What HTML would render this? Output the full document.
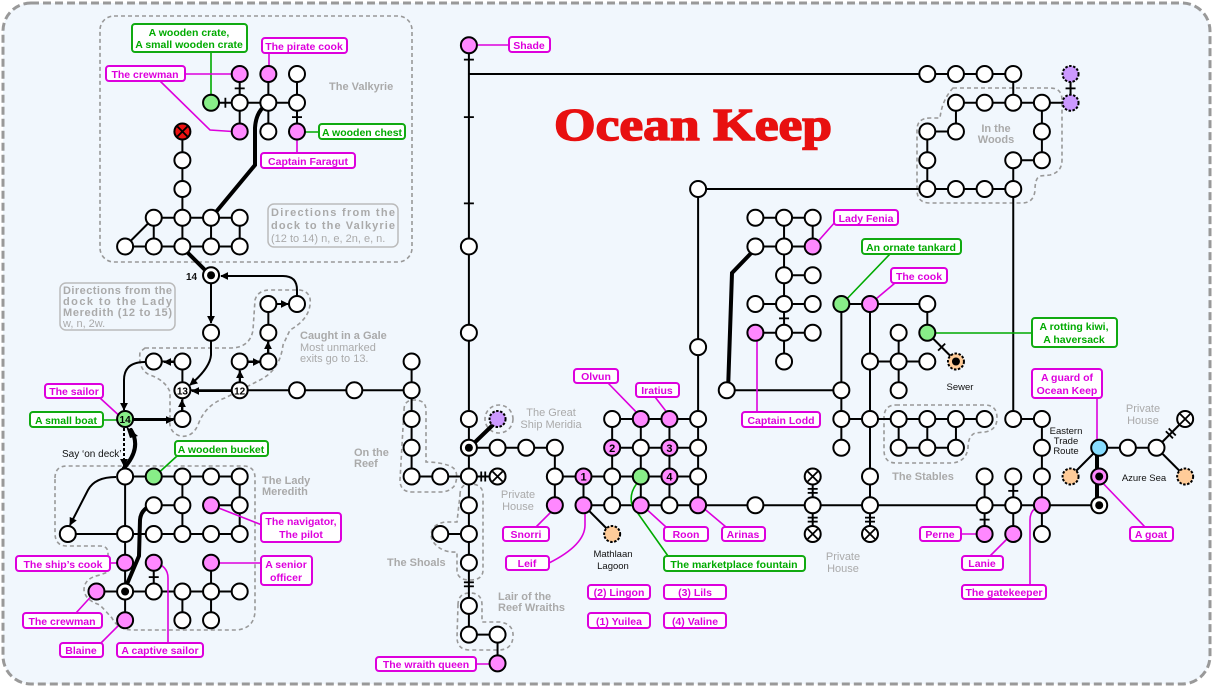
<!DOCTYPE html>
<html><head><meta charset="utf-8"><style>
body{margin:0;background:#fff}
svg{display:block;font-family:"Liberation Sans",sans-serif}
.m rect{fill:#fff;stroke:#d0d;stroke-width:2}
.m text{fill:#d0d;font-weight:bold;font-size:10.5px;text-anchor:middle}
.gr rect{fill:#fff;stroke:#1a1;stroke-width:2}
.gr text{fill:#0a0;font-weight:bold;font-size:10.5px;text-anchor:middle}
.gy{fill:#aaa;font-weight:bold;font-size:11px}
.bk{fill:#111;font-size:10px;font-weight:bold}
.dg{fill:none;stroke:#999;stroke-width:1.6;stroke-dasharray:4 3}
.ld{fill:none;stroke:#d0d;stroke-width:1.6}
.lg{fill:none;stroke:#0a0;stroke-width:1.6}
.e{stroke:#000;stroke-width:2;fill:none}
.th{stroke:#000;stroke-width:4;fill:none;stroke-linecap:round}
</style></head><body>
<svg id="s" width="1213" height="687" viewBox="0 0 1213 687" xmlns="http://www.w3.org/2000/svg">
<defs><marker id="a" viewBox="0 0 10 10" refX="9" refY="5" markerUnits="userSpaceOnUse" markerWidth="8" markerHeight="8" orient="auto"><path d="M0,0L10,5L0,10z" fill="#000"/></marker></defs>
<rect x="3" y="3" width="1207" height="681" rx="28" fill="#f1f7fd" stroke="#999" stroke-width="3" stroke-dasharray="8 4"/>
<rect class="dg" x="100" y="16" width="312" height="246" rx="14"/>
<path class="dg" d="M145,348 L230,348 Q250,348 253,330 L255,300 Q258,290 270,290 L300,290 Q312,292 310,305 Q308,320 290,330 L283,345 Q280,370 260,380 L225,398 Q205,405 198,425 Q192,438 180,436 Q168,432 170,418 L170,392 Q165,380 150,375 Q138,370 140,352 Z"/>
<path class="dg" d="M404,410 Q404,400 414,400 Q426,400 426,410 L426,462 Q440,462 450,466 Q460,470 455,485 Q450,492 440,492 L412,492 Q400,492 400,480 Z"/>
<path class="dg" d="M460,495 Q460,484 470,484 Q483,484 483,495 L483,570 Q483,580 470,580 Q457,580 457,570 L457,552 Q440,553 432,540 Q428,525 445,522 L457,522 Z"/>
<path class="dg" d="M458,605 Q458,593 470,593 Q482,593 482,605 L482,622 L500,622 Q514,624 513,637 Q512,650 498,650 L470,650 Q457,650 457,637 Z"/>
<circle class="dg" cx="499" cy="419" r="14"/>
<path class="dg" d="M55,478 Q55,466 67,466 L243,466 Q255,466 255,478 L255,610 Q255,628 237,630 L133,630 Q118,630 112,618 L100,605 Q85,600 84,590 Q84,578 100,575 L108,572 L108,553 Q108,546 100,546 L67,546 Q55,546 55,533 Z"/>
<path class="dg" d="M896,405 L985,405 Q997,405 997,418 Q997,430 985,432 L975,433 Q968,436 968,448 Q966,462 952,463 L896,463 Q884,463 884,450 L884,418 Q884,405 896,405 Z"/>
<path class="dg" d="M953,88 L1050,88 Q1062,88 1062,100 L1062,160 Q1062,172 1050,175 L1040,176 Q1035,178 1035,190 Q1034,203 1022,203 L930,203 Q917,203 917,190 L917,130 Q917,118 930,118 L940,118 Q942,100 953,88 Z"/>
<g id="E"></g>
<path class="th" d="M269,103 Q256,110 255,128 L255,165 L211,218"/>
<path class="th" d="M182,247 L211,276"/>
<path class="th" d="M124,591 L139,556 L140,520 Q141,508 154,505"/>
<path class="th" d="M124,468 Q142,448 131,430"/>
<path d="M126,426 L138,436 L130,438 Z" fill="#000"/>
<path class="e" d="M124,428 L124,466" stroke-dasharray="3 2" marker-end="url(#a)"/>
<path class="th" d="M469,448 L499,419"/>
<path class="th" d="M757,247 L732,273 L728,391"/>
<path class="th" d="M1097,448 L1097,506"/>
<path class="e" d="M297,296 L297,290 Q297,276 283,276 L221,276" marker-end="url(#a)"/>
<path class="e" d="M211,284 L211,323" marker-end="url(#a)"/>
<path class="e" d="M211,341 L211,355 Q210,368 190,385" marker-end="url(#a)"/>
<path class="e" d="M174,362 L164,362" marker-end="url(#a)"/>
<path class="e" d="M145,362 Q124,362 124,380 L124,410" marker-end="url(#a)"/>
<path class="e" d="M232,391 L192,391" marker-end="url(#a)"/>
<path class="e" d="M240,383 L240,371" marker-end="url(#a)"/>
<path class="e" d="M248,362 L260,362" marker-end="url(#a)"/>
<path class="e" d="M268,354 L268,342" marker-end="url(#a)"/>
<path class="e" d="M276,304 L288,304" marker-end="url(#a)"/>
<path class="e" d="M182,411 L182,400" marker-end="url(#a)"/>
<path class="e" d="M132,420 L173,420" marker-end="url(#a)"/>
<path class="e" d="M116,477 Q95,477 88,490 L70,525" marker-end="url(#a)"/>
<path class="lg" d="M211,52 L211,103"/>
<path class="ld" d="M269,53 L269,74"/>
<path class="ld" d="M185,74 L240,74 M160,81 L210,130 L240,132"/>
<path class="lg" d="M298,132 L320,132"/>
<path class="ld" d="M297,132 L297,153"/>
<path class="ld" d="M100,398 L124,420"/>
<path class="lg" d="M103,420 L124,420"/>
<path class="lg" d="M177,456 L154,477"/>
<path class="ld" d="M211,505 L262,525"/>
<path class="ld" d="M110,563 L124,563"/>
<path class="ld" d="M211,563 L262,563"/>
<path class="ld" d="M76,613 L96,591"/>
<path class="ld" d="M101,643 L124,620"/>
<path class="ld" d="M154,562 Q168,566 168,578 L168,643"/>
<path class="ld" d="M476,664 L499,664"/>
<path class="ld" d="M550,45 L469,45"/>
<path class="ld" d="M536,527 L557,506"/>
<path class="ld" d="M549,563 Q585,545 585,525 L585,506"/>
<path class="ld" d="M608,383 L643,419 M655,397 L672,419"/>
<path class="ld" d="M643,506 L666,527 M701,506 L726,527"/>
<path class="lg" d="M643,477 Q628,490 632,505 L668,556"/>
<path class="ld" d="M757,333 L757,412"/>
<path class="ld" d="M836,221 L813,247"/>
<path class="lg" d="M890,254 L842,304"/>
<path class="ld" d="M895,283 L870,304"/>
<path class="lg" d="M926,333 L1032,333"/>
<path class="ld" d="M961,534 L982,534"/>
<path class="ld" d="M990,556 L1011,535"/>
<path class="ld" d="M1030,585 L1030,520 Q1030,510 1039,506"/>
<path class="ld" d="M1097,398 L1097,448"/>
<path class="ld" d="M1097,477 L1145,527"/>
<g id="N"></g>
<text x="693" y="140" font-family="Liberation Serif,serif" font-weight="bold" font-size="46" fill="#e81010" stroke="#e81010" stroke-width="1.5" text-anchor="middle" textLength="278" lengthAdjust="spacingAndGlyphs">Ocean Keep</text>
<g class="gr"><rect x="132" y="24" width="115" height="28" rx="3"/><text x="189" y="36">A wooden crate,</text><text x="189" y="48">A small wooden crate</text></g>
<g class="m"><rect x="262" y="38" width="85" height="15" rx="3"/><text x="304" y="50">The pirate cook</text></g>
<g class="m"><rect x="106" y="66" width="79" height="15" rx="3"/><text x="145" y="78">The crewman</text></g>
<g class="gr"><rect x="319" y="124" width="86" height="15" rx="3"/><text x="362" y="136">A wooden chest</text></g>
<g class="m"><rect x="261" y="153" width="94" height="15" rx="3"/><text x="308" y="165">Captain Faragut</text></g>
<text class="gy" x="329" y="90">The Valkyrie</text>
<rect x="268" y="204" width="130" height="43" rx="6" fill="#f1f7fd" stroke="#bbb" stroke-width="1.5"/>
<text x="271" y="216" class="gy" textLength="124">Directions from the</text>
<text x="271" y="229" class="gy" textLength="124">dock to the Valkyrie</text>
<text x="271" y="242" fill="#aaa" font-size="11">(12 to 14) n, e, 2n, e, n.</text>
<text x="186" y="280" class="bk" font-size="11">14</text>
<rect x="60" y="283" width="115" height="47" rx="6" fill="#f1f7fd" stroke="#bbb" stroke-width="1.5"/>
<text x="63" y="294" class="gy" textLength="109">Directions from the</text>
<text x="63" y="305" class="gy" textLength="109">dock to the Lady</text>
<text x="63" y="316" class="gy" textLength="109">Meredith (12 to 15)</text>
<text x="63" y="327" fill="#aaa" font-size="11">w, n, 2w.</text>
<text class="gy" x="300" y="339">Caught in a Gale</text>
<text fill="#aaa" font-size="11" x="300" y="351">Most unmarked</text>
<text fill="#aaa" font-size="11" x="300" y="362">exits go to 13.</text>
<g class="m"><rect x="45" y="384" width="58" height="14" rx="3"/><text x="74" y="395">The sailor</text></g>
<g class="gr"><rect x="30" y="412" width="73" height="15" rx="3"/><text x="66" y="424">A small boat</text></g>
<text x="62" y="457" font-size="10" fill="#111">Say ‘on deck’</text>
<g class="gr"><rect x="175" y="441" width="93" height="15" rx="3"/><text x="221" y="453">A wooden bucket</text></g>
<text class="gy" x="262" y="484">The Lady</text><text class="gy" x="262" y="495">Meredith</text>
<g class="m"><rect x="261" y="513" width="80" height="29" rx="3"/><text x="301" y="525">The navigator,</text><text x="301" y="538">The pilot</text></g>
<g class="m"><rect x="16" y="556" width="94" height="15" rx="3"/><text x="63" y="568">The ship’s cook</text></g>
<g class="m"><rect x="261" y="556" width="51" height="29" rx="3"/><text x="286" y="568">A senior</text><text x="286" y="581">officer</text></g>
<g class="m"><rect x="23" y="613" width="79" height="15" rx="3"/><text x="62" y="625">The crewman</text></g>
<g class="m"><rect x="60" y="643" width="43" height="14" rx="3"/><text x="81" y="654">Blaine</text></g>
<g class="m"><rect x="117" y="643" width="86" height="14" rx="3"/><text x="160" y="654">A captive sailor</text></g>
<text class="gy" x="354" y="456">On the</text><text class="gy" x="354" y="467">Reef</text>
<text class="gy" x="387" y="566">The Shoals</text>
<text class="gy" x="498" y="600">Lair of the</text><text class="gy" x="498" y="611">Reef Wraiths</text>
<g class="m"><rect x="376" y="657" width="100" height="14" rx="3"/><text x="426" y="668">The wraith queen</text></g>
<g class="m"><rect x="509" y="37" width="41" height="15" rx="3"/><text x="529" y="49">Shade</text></g>
<text fill="#aaa" font-size="11" x="551" y="416" text-anchor="middle">The Great</text><text fill="#aaa" font-size="11" x="551" y="428" text-anchor="middle">Ship Meridia</text>
<text fill="#aaa" font-size="11" x="518" y="498" text-anchor="middle">Private</text><text fill="#aaa" font-size="11" x="518" y="510" text-anchor="middle">House</text>
<g class="m"><rect x="503" y="527" width="46" height="14" rx="3"/><text x="526" y="538">Snorri</text></g>
<g class="m"><rect x="506" y="556" width="43" height="14" rx="3"/><text x="527" y="567">Leif</text></g>
<text x="613" y="557" font-size="9.5" fill="#111" text-anchor="middle">Mathlaan</text><text x="613" y="569" font-size="9.5" fill="#111" text-anchor="middle">Lagoon</text>
<g class="m"><rect x="574" y="369" width="44" height="14" rx="3"/><text x="596" y="380">Olvun</text></g>
<g class="m"><rect x="636" y="383" width="43" height="14" rx="3"/><text x="657" y="394">Iratius</text></g>
<g class="m"><rect x="664" y="527" width="44" height="14" rx="3"/><text x="686" y="538">Roon</text></g>
<g class="m"><rect x="722" y="527" width="43" height="14" rx="3"/><text x="743" y="538">Arinas</text></g>
<g class="gr"><rect x="664" y="556" width="141" height="15" rx="3"/><text x="734" y="568">The marketplace fountain</text></g>
<g class="m"><rect x="588" y="585" width="62" height="14" rx="3"/><text x="619" y="596">(2) Lingon</text></g>
<g class="m"><rect x="664" y="585" width="62" height="14" rx="3"/><text x="695" y="596">(3) Lils</text></g>
<g class="m"><rect x="588" y="613" width="62" height="15" rx="3"/><text x="619" y="625">(1) Yuilea</text></g>
<g class="m"><rect x="664" y="613" width="62" height="15" rx="3"/><text x="695" y="625">(4) Valine</text></g>
<g class="m"><rect x="742" y="412" width="78" height="15" rx="3"/><text x="781" y="424">Captain Lodd</text></g>
<g class="m"><rect x="834" y="210" width="64" height="15" rx="3"/><text x="866" y="222">Lady Fenia</text></g>
<g class="gr"><rect x="862" y="239" width="99" height="15" rx="3"/><text x="911" y="251">An ornate tankard</text></g>
<g class="m"><rect x="891" y="268" width="56" height="15" rx="3"/><text x="919" y="280">The cook</text></g>
<g class="gr"><rect x="1032" y="318" width="85" height="29" rx="3"/><text x="1074" y="330">A rotting kiwi,</text><text x="1074" y="343">A haversack</text></g>
<text x="960" y="390" font-size="9.5" fill="#111" text-anchor="middle">Sewer</text>
<text class="gy" x="923" y="480" text-anchor="middle">The Stables</text>
<text class="gy" x="996" y="132" text-anchor="middle">In the</text><text class="gy" x="996" y="143" text-anchor="middle">Woods</text>
<text fill="#aaa" font-size="11" x="843" y="560" text-anchor="middle">Private</text><text fill="#aaa" font-size="11" x="843" y="572" text-anchor="middle">House</text>
<g class="m"><rect x="920" y="527" width="41" height="14" rx="3"/><text x="940" y="538">Perne</text></g>
<g class="m"><rect x="962" y="556" width="41" height="14" rx="3"/><text x="982" y="567">Lanie</text></g>
<g class="m"><rect x="962" y="585" width="84" height="14" rx="3"/><text x="1004" y="596">The gatekeeper</text></g>
<g class="m"><rect x="1032" y="369" width="70" height="29" rx="3"/><text x="1067" y="381">A guard of</text><text x="1067" y="394">Ocean Keep</text></g>
<text x="1066" y="434" font-size="9.5" fill="#111" text-anchor="middle">Eastern</text><text x="1066" y="444" font-size="9.5" fill="#111" text-anchor="middle">Trade</text><text x="1066" y="454" font-size="9.5" fill="#111" text-anchor="middle">Route</text>
<text fill="#aaa" font-size="11" x="1143" y="412" text-anchor="middle">Private</text><text fill="#aaa" font-size="11" x="1143" y="424" text-anchor="middle">House</text>
<text x="1144" y="481" font-size="9.5" fill="#111" text-anchor="middle">Azure Sea</text>
<g class="m"><rect x="1130" y="527" width="43" height="14" rx="3"/><text x="1151" y="538">A goat</text></g>
</svg>
<script>
const X=c=>10.5+28.65*c,Y=r=>16.5+28.75*r,NS="http://www.w3.org/2000/svg";
const E=document.getElementById('E'),N=document.getElementById('N');
function el(p,t,a){const e=document.createElementNS(NS,t);for(const k in a)e.setAttribute(k,a[k]);p.appendChild(e);return e;}
const edges=[[8,2,8,3],[7,3,8,3],[8,3,10,3],[9,2,9,4],[10,2,10,4],[8,3,8,4],[6,4,6,7],[5,7,8,7],[4,8,8,8],[5,7,5,8],[6,7,6,8],[7,7,7,8],[8,7,8,8],[4,8,5,7],
[9,10,9,12],[6,12,6,13],[5,12,6,12],[8,12,9,12],[8,12,8,13],[6,13,14,13],[6,13,6,14],[4,14,6,14],[9,10,10,10],
[14,12,14,16],[14,16,16,16],
[4,16,8,16],[6,16,6,18],[8,16,8,18],[7,17,8,17],[5,17,6,17],[2,18,8,18],[4,16,4,21],[3,20,8,20],[5,19,5,20],[7,19,7,20],[6,20,6,21],[7,20,7,21],
[16,1,16,2],[16,2,35,2],[16,2,16,19],[16,19,16,20.5],[16,20.5,16,21.5],[16,21.5,17,21.5],[17,21.5,17,22.5],
[16,15,19,15],[19,15,19,17],[19,16,24,16],[20,16,20,17],[20,17,38,17],[20,17,21,18],[16,16,17,16],[15,18,16,18],
[21,14,24,14],[21,15,24,15],[21,14,21,17],[22,14,22,17],[23,14,23,17],[24,6,24,17],[24,6,32,6],
[28,16,28,18],[30,17,30,18],[30,10,30,17],[29,10,29,15],[29,10,32,10],[32,10,32,11],[32,11,33,12],[31,11,31,13],[30,12,32,12],[25,13,29,13],[29,14,34,14],[31,14,31,15],[32,14,32,15],[33,14,33,15],[31,15,33,15],
[26,7,28,7],[27,7,27,8],[28,7,28,8],[26,8,28,8],[27,8,27,12],[27,9,28,9],[26,10,28,10],[26,11,28,11],
[35,2,35,3],[33,3,37,3],[33,3,33,4],[32,4,33,4],[32,4,32,6],[32,6,35,6],[35,5,35,6],[35,5,36,5],[36,3,36,5],[37,2,37,3],[35,6,35,14],[35,14,36,14],[36,14,36,18],[34,16,34,18],[35,16,35,18],
[38,15,40,15],[40,15,41,14],[40,15,41,16],[38,15,37,16]];
edges.forEach(([a,b,c,d])=>el(E,'line',{x1:X(a),y1:Y(b),x2:X(c),y2:Y(d),class:'e'}));
const ticks=[[8,2,8,3],[7,3,8,3],[10,3,10,4],[16,1,16,2],[16,3.5,16,3.5],[16,6.5,16,6.5],[5,19,5,20],[4,18,5,18],[27,10,27,11],[37,2,37,3],[32,11,33,12],[34,17,34,18],[35,16,35,17],
[28,16,28,17,1],[28,17,28,18,1],[30,17,30,18,1],[16,16,17,16,1],[16,19,16,20.5,1],[40,15,41,14,1]];
ticks.forEach(([a,b,c,d,dbl])=>{let x1=X(a),y1=Y(b),x2=X(c),y2=Y(d);let mx=(x1+x2)/2,my=(y1+y2)/2,dx=x2-x1,dy=y2-y1,L=Math.hypot(dx,dy)||1;if(L<2){dx=0;dy=1;L=1;}let ux=dx/L,uy=dy/L,px=-uy*5,py=ux*5;
 const offs=dbl?[-2,2]:[0];offs.forEach(o=>el(E,'line',{x1:mx+ux*o+px,y1:my+uy*o+py,x2:mx+ux*o-px,y2:my+uy*o-py,stroke:'#000','stroke-width':1.8}));});
const F={w:'#fff',p:'#f8f',g:'#8e8',u:'#c9f',o:'#fc9',c:'#8df',x:'#fff',R:'#e11',d:'#fff',q:'#f8f'};
const nodes=`p8,2 p9,2 w10,2 g7,3 w8,3 w9,3 w10,3 R6,4 p8,4 w9,4 p10,4 w6,5 w6,6 w5,7 w6,7 w7,7 w8,7 w4,8 w5,8 w6,8 w7,8 w8,8 d7,9
w9,10 w10,10 w7,11 w9,11 w5,12 w6,12 w8,12 w9,12 w6,13:13 w8,13:12 w10,13 w12,13 w14,13 g4,14:14 w6,14
w14,12 w14,14 w14,15 w14,16 w15,16
w4,16 g5,16 w6,16 w7,16 w8,16 w5,17 w6,17 p7,17 w8,17 w2,18 w4,18 w5,18 w6,18 w7,18 w8,18 p4,19 p5,19 p7,19 p3,20 d4,20 w5,20 w6,20 w7,20 w8,20 p4,21 w6,21 w7,21
p16,1 w16,8 w16,11 w16,14 u17,14 d16,15 w17,15 w18,15 w19,15 w16,16 x17,16 w19,16 p20,16:1 w21,16 g22,16 p23,16:4 w24,16
w16,17 w16,18 w15,18 w16,19 w16,20.5 w16,21.5 w17,21.5 p17,22.5
p19,17 p20,17 w21,17 p22,17 w23,17 p24,17 o21,18 w21,14 p22,14 p23,14 w24,14 p21,15:2 w22,15 p23,15:3 w24,15
w24,6 w24,11.5 w26,17 x28,16 w28,17 x28,18 w30,17 x30,18
w32,2 w33,2 w34,2 w35,2 u37,2 w33,3 w34,3 w35,3 w36,3 u37,3 w32,4 w33,4 w36,4 w32,5 w35,5 w36,5 w32,6 w33,6 w34,6 w35,6
w26,7 w27,7 w28,7 w26,8 w27,8 p28,8 w27,9 w28,9 w26,10 w27,10 w28,10 p26,11 w27,11 w28,11 w27,12
w25,13 w29,13 g29,10 p30,10 w32,10 g32,11 O33,12 w31,11 w30,12 w31,12 w32,12 w31,13
w29,14 w30,14 w31,14 w32,14 w33,14 w34,14 w29,15 w31,15 w32,15 w33,15 w30,16
w35,14 w36,14 w36,15 w36,16 p36,17 w36,18 w34,16 w34,17 p34,18 w35,16 w35,17 p35,18 d38,17 c38,15 w39,15 w40,15 x41,14 o37,16 o41,16 q38,16`;
nodes.split(/\s+/).forEach(s=>{const t=s[0];let [pos,lab]=s.slice(1).split(':');let [c,r]=pos.split(',').map(Number);const x=X(c),y=Y(r);
 const k=t=='O'?'o':t;const a={cx:x,cy:y,r:8,fill:F[k],stroke:'#000','stroke-width':2};if(k=='u'||k=='o')a['stroke-dasharray']='2.5 1.5';
 el(N,'circle',a);
 if(k=='x'||k=='R'){el(N,'path',{d:`M${x-5},${y-5}L${x+5},${y+5}M${x+5},${y-5}L${x-5},${y+5}`,stroke:'#000','stroke-width':1.8});}
 if(k=='d'||k=='q'){el(N,'circle',{cx:x,cy:y,r:4,fill:'#000'});}
 if(t=='O')el(N,'circle',{cx:x,cy:y,r:4,fill:'#000'});
 if(lab){const tx=el(N,'text',{x:x,y:y+4,'text-anchor':'middle','font-size':lab.length>1?10:11,'font-weight':'bold',fill:'#000'});tx.textContent=lab;}
});
</script>
</body></html>
